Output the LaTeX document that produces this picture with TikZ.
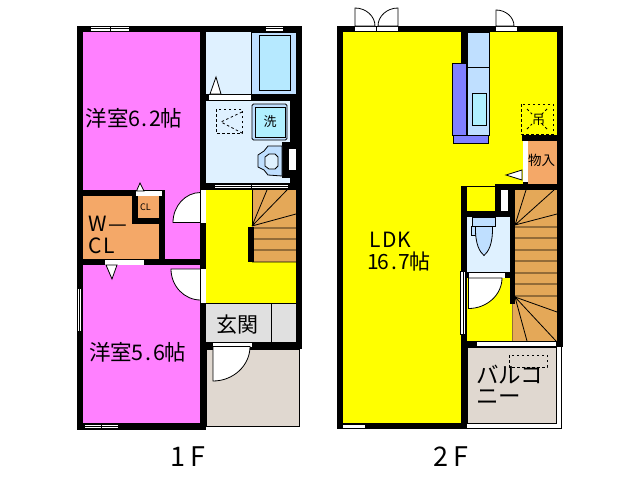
\documentclass[tikz,border=0pt]{standalone}
\usepackage{fontspec}
\setmainfont{Noto Sans CJK JP}
\tikzset{
 wall/.style={fill=black},
 pane/.style={fill=white,draw=black,line width=.7pt},
 hair/.style={draw=black,line width=.8pt},
 swing/.style={fill=white,draw=black,line width=.8pt},
 dashln/.style={draw=black,line width=.8pt,dash pattern=on 2.5pt off 2.5pt},
 lab/.style={inner sep=0pt,text=black,anchor=west},
}
\definecolor{pk}{HTML}{FF80FF}\definecolor{ye}{HTML}{FFFF00}\definecolor{lb}{HTML}{DFF1FF}
\definecolor{tub}{HTML}{BFDFFF}\definecolor{cy}{HTML}{B0F0FF}\definecolor{ora}{HTML}{F4A868}
\definecolor{st}{HTML}{E4A858}\definecolor{be}{HTML}{E0D8D0}\definecolor{gy}{HTML}{E0E0E0}
\definecolor{pu}{HTML}{8080FF}
\newcommand{\lf}[1]{\fontsize{#1}{#1}\selectfont}
\newcommand{\hc}[1]{\makebox[.5em]{#1}}
\newcommand{\wc}[2]{\makebox[#1pt]{#2}}
% door leaf: hinge x, hinge y, signed reach along x, signed reach along y
\newcommand{\leaf}[4]{\draw[swing] ({#1+#3},#2) .. controls ({#1+#3},{#2+.55*#4}) and ({#1+.55*#3},{#2+#4}) .. (#1,{#2+#4}) -- (#1,#2) -- cycle;}
\begin{document}
\begin{tikzpicture}[x=1pt,y=-1pt]
\useasboundingbox (0,0) rectangle (638,480);
\fill[white] (0,0) rectangle (638,480);
% ---------- 1F floors
\fill[pk] (83,32) rectangle (200,423);
\fill[lb] (206,32) rectangle (251,94);
\filldraw[fill=tub,hair] (251,32) rectangle (296,94);
\draw[hair,fill=cy!60!tub] (259,35.5) rectangle (290,90.5);
\fill[lb] (206,101) rectangle (290,183);
\fill[ora] (83,196) rectangle (159,259);
\fill[ye] (206,190) rectangle (296,303);
\fill[st] (252,190) rectangle (296,262);
\fill[gy] (206,303) rectangle (296,342);
\draw[hair] (206,303) -- (296,303) (271,303) -- (271,342);
\filldraw[fill=be,hair] (206,349) rectangle (299.5,426);
% stairs 1F
\draw[hair] (252,226) -- (267,190) (252,226) -- (287,190) (252,226) -- (296,214)
 (252,228) -- (296,228) (252,239) -- (296,239) (252,250) -- (296,250) (252,262) -- (296,262);
\draw[hair] (252,190) -- (252,226);
% ---------- 1F walls
\fill[wall] (77,26) rectangle (302,32);
\fill[wall] (77,26) rectangle (83,428);
\fill[wall] (200,26) rectangle (206,429);
\fill[wall] (296,26) rectangle (302,349);
\fill[wall] (206,94) rectangle (302,101);
\fill[wall] (290,101) rectangle (302,190);
\fill[wall] (282,142) rectangle (296,178);
\fill[wall] (206,183) rectangle (302,190);
\fill[wall] (77,190) rectangle (165,196);
\fill[wall] (159,190) rectangle (165,265);
\fill[wall] (132,196) rectangle (138,224);
\fill[wall] (132,218) rectangle (165,224);
\fill[wall] (77,259) rectangle (206,265);
\fill[wall] (77,423) rectangle (206,429);
\fill[wall] (206,342) rectangle (302,348.5);
\fill[wall] (248,227) rectangle (254,262);
\draw[line width=.7pt] (77,429) -- (206,429);
\fill[ora] (138,196) rectangle (159,218);
% 1F windows and doors
\draw[pane] (90,26.5) rectangle (129,31);\draw[hair] (110,26.5) -- (110,31);
\draw[hair] (90,28.7) -- (129,28.7);
\draw[pane] (265,26.5) rectangle (283,31);\draw[hair] (265,28.7) -- (283,28.7);
\draw[pane] (214,184) rectangle (288,188.5);\draw[hair] (214,186.2) -- (288,186.2) (251,184) -- (251,188.5);
\draw[pane] (77.5,288) rectangle (81.5,331);\draw[hair] (79.5,288) -- (79.5,331);
\draw[pane] (84,424.5) rectangle (118,428.5);\draw[hair] (84,426.5) -- (118,426.5) (101,424.5) -- (101,428.5);
\fill[white] (209,94.5) rectangle (251,100);
\draw[swing] (210,94) -- (216,77) -- (221,94) -- cycle;
\fill[white] (136,191) rectangle (162,196);
\draw[swing] (136.5,191) -- (140,183) -- (144,191) -- cycle;
\fill[white] (105,260) rectangle (144,265);
\draw[swing] (106,265) -- (112,279) -- (117,265) -- cycle;
\fill[white] (201,190) rectangle (206,223);
\fill[white] (201,269) rectangle (206,303);
\leaf{200.5}{222.5}{-27.5}{-30}
\leaf{200.5}{269}{-29.5}{31}
\fill[white] (213,342.5) rectangle (252,346.5);
\leaf{213}{346.5}{37}{34.5}
% 1F fixtures
\draw[dashln] (216,109) rectangle (242,133);
\draw[dashln] (242,112) -- (221,122) -- (242,133);
\draw[hair,rounded corners=1.5pt,fill=tub] (252,104) rectangle (287,140);
\draw[hair,fill=cy] (255,107) rectangle (285,137);
\node[lab,anchor=center] (wash) at (270,122) {\lf{13}洗};
\draw[hair,fill=tub] (282,146) -- (268,146) -- (264,151) -- (258,155) -- (258,167) -- (264,170) -- (268,175) -- (282,176) -- cycle;
\draw[hair,fill=lb] (269,154) -- (275,154) -- (278,157) -- (278,166) -- (275,169) -- (269,169) -- (265,166) -- (265,157) -- cycle;
\fill[white] (289,149) rectangle (296,170);
\node[lab] (r1) at (85.5,118) {\lf{21.5}洋室\hc{6}\hc{.}\hc{2}帖};
\node[lab] (r2) at (89,352) {\lf{21.5}洋室\hc{5}\hc{.}\hc{6}帖};
\node[lab] (wcl1) at (88,224) {\lf{21}\wc{20}{W}\wc{19}{—}};
\node[lab] (wcl2) at (87,246) {\lf{21}\wc{16}{C}\wc{13}{L}};
\node[lab,anchor=center] (cl) at (145.5,207) {\lf{9}CL};
\node[lab,anchor=center] (gk) at (237,325) {\lf{21}玄関};
\node[lab,anchor=center] (f1) at (188,457) {\lf{27}\wc{14}{1}\wc{6}{}\wc{15}{F}};
% ---------- 2F floors
\fill[ye] (343,32) rectangle (557,423);
\fill[ora] (528,141) rectangle (557,184);
\fill[lb] (467,217) rectangle (510,272);
\fill[st] (512,190) rectangle (557,341);
\filldraw[fill=be,hair] (467,347) rectangle (556.5,423);
\filldraw[fill=tub,hair] (467,32) rectangle (489.5,135);
\draw[hair] (467,67) -- (489.5,67);
\draw[hair,fill=cy] (472,93) rectangle (486.5,125.5);
\draw[hair,fill=pu] (452.5,63) rectangle (466,135);
\draw[hair,fill=pu] (453.5,135) rectangle (488.5,143);
\draw[dashln] (521,104) rectangle (553,134);
\draw[dashln] (527,109) -- (532,114) (547,109) -- (542,114) (527,129) -- (532,124) (547,129) -- (542,124);
\node[lab,anchor=center] (hang) at (538.5,120) {\lf{13}吊};
% stairs 2F
\draw[hair] (515,225) -- (526,190) (515,225) -- (554,190) (515,225) -- (557,214)
 (515,227) -- (557,227) (515,238) -- (557,238) (515,250) -- (557,250) (515,261) -- (557,261)
 (515,273) -- (557,273) (515,284) -- (557,284) (515,296) -- (557,296)
 (515,297) -- (557,312) (515,297) -- (556,341) (515,297) -- (527,341) (512,304) -- (512,341);
\draw[hair] (512,341) -- (557,341);
\fill[ye] (467,278) rectangle (511.5,341);
% ---------- 2F walls
\fill[wall] (337,26) rectangle (563,32);
\fill[wall] (337,26) rectangle (343,429);
\fill[wall] (557,26) rectangle (563,347);
\fill[wall] (461,32) rectangle (467,63);
\fill[wall] (522,135) rectangle (557,141);
\fill[wall] (495,184) rectangle (563,190);
\fill[wall] (523,182) rectangle (528,184);
\fill[wall] (461,186) rectangle (467,429);
\draw[hair] (467,186.5) -- (495,186.5) (495,186) -- (495,211);
\fill[wall] (461,211) rectangle (514,217);
\fill[wall] (495,190) rectangle (501,211);
\fill[wall] (508,190) rectangle (514,217);
\fill[wall] (510,190) rectangle (515,304);
\fill[wall] (461,272) rectangle (515,278);
\fill[wall] (461,341) rectangle (563,347);
\fill[wall] (337,423) rectangle (467,429);
\draw[line width=.7pt] (467,428.5) -- (561,428.5) (561,347) -- (561,428.5);
\draw[line width=.7pt] (467,423) -- (556.5,423) -- (556.5,347);
% 2F windows and doors
\fill[white] (355,26.5) rectangle (398,31);\draw[hair] (376.5,26.5) -- (376.5,31);
\fill[white] (496,26.5) rectangle (517,31);
\fill[white] (523,141) rectangle (528,182);
\fill[white] (501,190) rectangle (508,211);
\fill[white] (469,273) rectangle (505,278);
\fill[white] (477,342) rectangle (556,346);\draw[hair] (477,346) -- (556,346);
\draw[pane] (342,424.5) rectangle (365,428);
\draw[pane] (460.5,271) rectangle (465.5,334);\draw[hair] (463,271) -- (463,334);
\leaf{355}{26}{20}{-18}
\leaf{398}{26}{-20}{-18}
\leaf{496}{26}{18}{-16}
\draw[swing] (522,170) -- (506,175) -- (522,180) -- cycle;
\leaf{468.5}{278}{33.5}{30.5}
% toilet
\draw[hair,fill=tub] (471,226) rectangle (475,235);
\draw[hair,fill=tub] (475.5,226) .. controls (475,245) and (480,252) .. (484,255.5) .. controls (488,252) and (493,245) .. (492.5,226) -- cycle;
\draw[hair,fill=tub] (472.5,217) rectangle (495,226);
\draw[dashln] (509,355) rectangle (547,367);
\node[lab] (bal1) at (476,374.5) {\lf{22.5}バルコ};
\node[lab] (bal2) at (476,397.5) {\lf{22.5}ニー};
\node[lab] (ld1) at (367,240) {\lf{21}\wc{15}{L}\wc{15}{D}\wc{15}{K}};
\node[lab] (ld2) at (367.5,262) {\lf{21}\hc{1}\hc{6}\hc{.}\hc{7}帖};
\node[lab] (kin) at (528,160.5) {\lf{13.5}物入};
\node[lab,anchor=center] (f2) at (451,457) {\lf{27}\wc{14}{2}\wc{6}{}\wc{15}{F}};
\end{tikzpicture}
\end{document}
